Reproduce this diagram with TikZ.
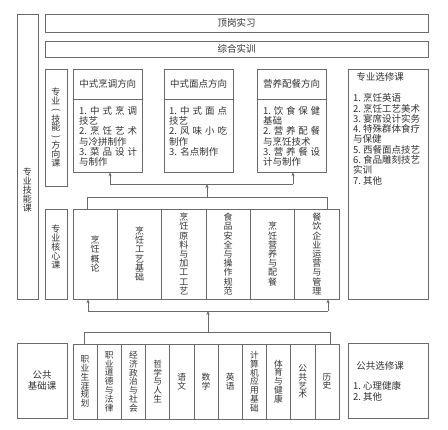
\documentclass[tikz,border=0pt]{standalone}
\usepackage{fontspec}
\usepackage{graphicx}
\setmainfont{Noto Sans CJK SC}
\usetikzlibrary{arrows.meta}
\definecolor{ln}{HTML}{6A6A6A}
\definecolor{tx}{HTML}{333333}
\newcommand\spreadline[1]{\makebox[\linewidth][s]{#1}}
\newcommand\vparen[1]{\rotatebox[origin=c]{-90}{#1}}
\begin{document}
\begin{tikzpicture}[x=1pt,y=-1pt,
  bx/.style={draw=ln,line width=0.6pt,inner sep=0pt,text=tx,font=\fontsize{9.5}{10.3}\selectfont},
  vt/.style={bx,align=center,font=\fontsize{9}{9.2}\selectfont},
  pv/.style={bx,align=center,font=\fontsize{8.7}{8.8}\selectfont,minimum width=24.18pt,minimum height=75pt},
  cv/.style={vt,minimum width=44.33pt,minimum height=90pt},
  lst/.style={anchor=north west,inner sep=0pt,text=tx,align=left,font=\fontsize{9.5}{10.3}\selectfont},
  lbl/.style={inner sep=0pt,text=tx,align=center},
  con/.style={draw=ln,line width=0.6pt},
  arr/.style={con,-{Stealth[length=4pt,width=3.2pt]}}]
\useasboundingbox[fill=white] (0,0) rectangle (448,430);

% top bars
\node[bx,minimum width=383pt,minimum height=18pt] (ding) at (236.5,23) {顶岗实习};
\node[bx,minimum width=383pt,minimum height=16pt] (zong) at (236.5,49) {综合实训};

% left frames
\node[bx,minimum width=21pt,minimum height=285pt] (jineng) at (27.5,156.5) {};
\node[lbl,font=\fontsize{9}{9}\selectfont] (jinengt) at (27.5,190) {专\\业\\技\\能\\课};
\node[bx,minimum width=22pt,minimum height=117pt] (fangxiang) at (56,127.5) {};
\node[lbl,font=\fontsize{9}{8.9}\selectfont] (fangxiangt) at (56,127.5) {专\\业\\\vparen{(}\\技\\能\\\vparen{)}\\方\\向\\课};
\node[bx,minimum width=22pt,minimum height=90pt] (hexin) at (56,254) {};
\node[lbl,font=\fontsize{9}{9}\selectfont] (hexint) at (56,247) {专\\业\\核\\心\\课};

% direction boxes
\node[bx,minimum width=69.5pt,minimum height=30pt] (d1h) at (107.75,84) {中式烹调方向};
\node[bx,minimum width=69.5pt,minimum height=73pt] (d1b) at (107.75,135.5) {};
\node[lst,text width=58pt] (d1t) at (79,106) {\spreadline{1.\hfil 中\hfil 式\hfil 烹\hfil 调}\\技艺\\\spreadline{2.\hfil 烹\hfil 饪\hfil 艺\hfil 术}\\与冷拼制作\\\spreadline{3.\hfil 菜\hfil 品\hfil 设\hfil 计}\\与制作};

\node[bx,minimum width=69pt,minimum height=30pt] (d2h) at (198.5,84) {中式面点方向};
\node[bx,minimum width=69pt,minimum height=73pt] (d2b) at (198.5,135.5) {};
\node[lst,text width=58pt] (d2t) at (169,106) {\spreadline{1.\hfil 中\hfil 式\hfil 面\hfil 点}\\技艺\\\spreadline{2.\hfil 风\hfil 味\hfil 小\hfil 吃}\\制作\\3.\ 名点制作};

\node[bx,minimum width=69pt,minimum height=30pt] (d3h) at (291.5,84) {营养配餐方向};
\node[bx,minimum width=69pt,minimum height=73pt] (d3b) at (291.5,135.5) {};
\node[lst,text width=57pt] (d3t) at (263,106) {\spreadline{1.\hfil 饮\hfil 食\hfil 保\hfil 健}\\基础\\\spreadline{2.\hfil 营\hfil 养\hfil 配\hfil 餐}\\与烹饪技术\\\spreadline{3.\hfil 营\hfil 养\hfil 餐\hfil 设}\\计与制作};

% elective box
\node[bx,minimum width=80pt,minimum height=230pt] (xuan) at (388,184) {};
\node[lbl,font=\fontsize{9.5}{10.3}\selectfont] (xuant) at (380,77) {专业选修课};
\node[lst] (xuanl) at (353,93.5) {1.\ 烹饪英语\\2.\ 烹饪工艺美术\\3.\ 宴席设计实务\\4.\ 特殊群体食疗\\与保健\\5.\ 西餐面点技艺\\6.\ 食品雕刻技艺\\实训\\7.\ 其他};

% core columns
\node[cv] (k1) at (95.17,254) {烹\\饪\\概\\论};
\node[cv] (k2) at (139.5,254) {烹\\饪\\工\\艺\\基\\础};
\node[cv] (k3) at (183.83,254) {烹\\饪\\原\\料\\与\\加\\工\\工\\艺};
\node[cv] (k4) at (228.17,254) {食\\品\\安\\全\\与\\操\\作\\规\\范};
\node[cv] (k5) at (272.5,254) {烹\\饪\\营\\养\\与\\配\\餐};
\node[cv] (k6) at (316.83,254) {餐\\饮\\企\\业\\运\\营\\与\\管\\理};

% public columns
\node[pv] (p1) at (85.09,381.5) {职\\业\\生\\涯\\规\\划};
\node[pv] (p2) at (109.27,381.5) {职\\业\\道\\德\\与\\法\\律};
\node[pv] (p3) at (133.45,381.5) {经\\济\\政\\治\\与\\社\\会};
\node[pv] (p4) at (157.64,381.5) {哲\\学\\与\\人\\生};
\node[pv] (p5) at (181.82,381.5) {语\\文};
\node[pv] (p6) at (206,381.5) {数\\学};
\node[pv] (p7) at (230.18,381.5) {英\\语};
\node[pv] (p8) at (254.36,381.5) {计\\算\\机\\应\\用\\基\\础};
\node[pv] (p9) at (278.55,381.5) {体\\育\\与\\健\\康};
\node[pv] (p10) at (302.73,381.5) {公\\共\\艺\\术};
\node[pv] (p11) at (326.91,381.5) {历\\史};

\node[bx,minimum width=50pt,minimum height=75pt,align=center,font=\fontsize{9.5}{11}\selectfont] (gongji) at (42,380.5) {公共\\基础课};
\node[bx,minimum width=80pt,minimum height=75pt] (gongxuan) at (388,380.5) {};
\node[lbl,font=\fontsize{9.5}{10.3}\selectfont] (gongxuant) at (380,366) {公共选修课};
\node[lst] (gongxuanl) at (353,381.5) {1.\ 心理健康\\2.\ 其他};

% connectors: core -> directions
\coordinate (ka) at (87,197);
\coordinate (kb) at (327,197);
\coordinate (km) at (207,197);
\coordinate (dm) at (207,184);
\coordinate (da) at (110,184);
\coordinate (db) at (293,184);
\draw[con] (k1.north -| ka) -- (ka) -- (kb) -- (k6.north -| kb);
\draw[arr] (km) -- (dm);
\draw[con] (da) -- (db);
\draw[arr] (da) -- (d1b.south -| da);
\draw[arr] (db) -- (d3b.south -| db);

% connectors: public -> core
\coordinate (pa) at (84,332);
\coordinate (pb) at (330,332);
\coordinate (pm) at (208,332);
\coordinate (cm) at (208,311);
\coordinate (ca) at (88,311);
\coordinate (cb) at (328,311);
\draw[con] (p1.north -| pa) -- (pa) -- (pb) -- (p11.north -| pb);
\draw[arr] (pm) -- (cm);
\draw[con] (ca) -- (cb);
\draw[arr] (ca) -- (k1.south -| ca);
\draw[arr] (cb) -- (k6.south -| cb);
\end{tikzpicture}
\end{document}
